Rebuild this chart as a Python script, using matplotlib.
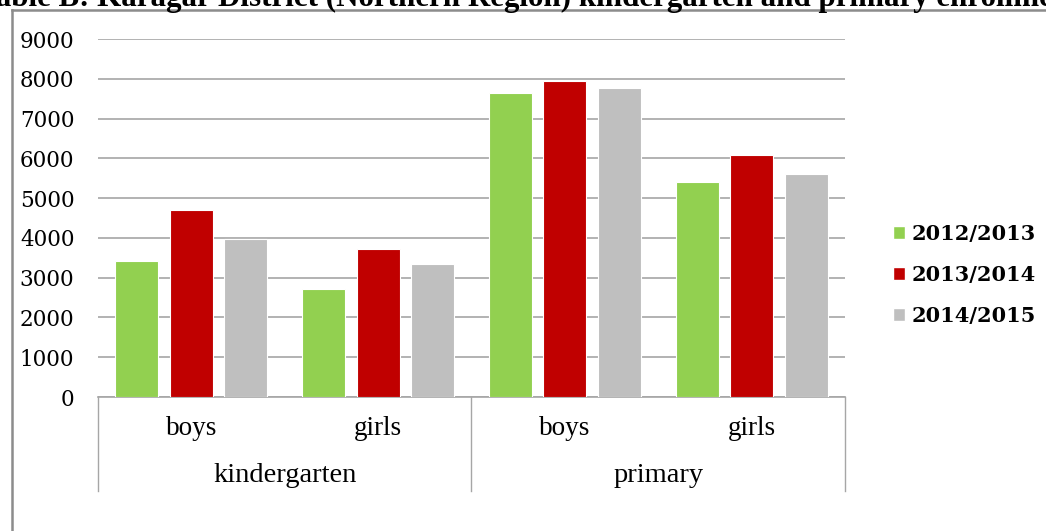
import numpy as np
import matplotlib
matplotlib.use("Agg")
import matplotlib.pyplot as plt
from matplotlib.patches import Patch
from matplotlib.lines import Line2D

# data
levels = ["kindergarten", "primary"]
genders = ["boys", "girls", "boys", "girls"]
years = ["2012/2013", "2013/2014", "2014/2015"]
y2012 = [3420, 2720, 7630, 5400]
y2013 = [4700, 3720, 7940, 6075]
y2014 = [3960, 3340, 7770, 5600]
colors = ["#92D050", "#C00000", "#BFBFBF"]
yticks = [0, 1000, 2000, 3000, 4000, 5000, 6000, 7000, 8000, 9000]

W, H = 1046, 531
fig = plt.figure(figsize=(W / 100, H / 100), dpi=100)

# plot area in pixels: x 98..845, y 39..397
ax = fig.add_axes([98 / W, 1 - 397 / H, (845 - 98) / W, (397 - 39) / H])

x = np.arange(len(genders))
bw = 0.23
off = 0.292
for i, vals in enumerate([y2012, y2013, y2014]):
    ax.bar(x + (i - 1) * off, vals, bw, color=colors[i], edgecolor="white",
           linewidth=0.8, zorder=3, label=years[i])

ax.set_xlim(-0.5, len(genders) - 0.5)
ax.set_ylim(0, 9000)
ax.set_yticks(yticks)
ax.set_yticklabels([str(t) for t in yticks], fontfamily="DejaVu Serif",
                   fontsize=15.5, color="black")
ax.tick_params(axis="y", length=0, pad=17)
ax.tick_params(axis="x", length=0, labelbottom=False)
ax.grid(axis="y", color="#a6a6a6", linewidth=1.2, zorder=0)
for s in ["top", "right", "left"]:
    ax.spines[s].set_visible(False)
ax.spines["bottom"].set_color("#a6a6a6")
ax.spines["bottom"].set_linewidth(1.2)

# category labels (two levels)
tr = ax.get_xaxis_transform()
for xi, g in zip(x, genders):
    ax.text(xi, -0.088, g, transform=tr, ha="center", va="center",
            fontfamily="Liberation Serif", fontsize=19.5)
for k, lv in enumerate(levels):
    ax.text(2 * k + 0.5, -0.22, lv, transform=tr, ha="center", va="center",
            fontfamily="Liberation Serif", fontsize=20.5)
for xs in [-0.5, 1.5, 3.5]:
    ax.plot([xs, xs], [0, -0.262], transform=tr, color="#a6a6a6",
            linewidth=1.0, clip_on=False)

# legend
handles = [Patch(facecolor=c, edgecolor="white") for c in colors]
leg = fig.legend(handles, years, loc="center left",
                 bbox_to_anchor=(874 / W, 1 - 275 / H), frameon=False,
                 prop={"family": "DejaVu Serif", "weight": "bold", "size": 15},
                 handlelength=0.6, handleheight=0.6, handletextpad=0.3,
                 labelspacing=1.0)

# outer chart frame (only top and left edges visible)
fig.add_artist(Line2D([12 / W, 12 / W], [0, 1 - 10 / H], color="#8c8c8c",
                      linewidth=1.8))
fig.add_artist(Line2D([12 / W, 1], [1 - 10 / H, 1 - 10 / H], color="#8c8c8c",
                      linewidth=1.8))

# title, cut off by the top edge as in the reference
fig.text(-0.021, 1 - 6 / H,
         "Table B: Karagar District (Northern Region) kindergarten and primary enrollment",
         fontfamily="Liberation Serif", fontweight="bold", fontsize=22.3,
         ha="left", va="baseline")

fig.savefig("out.png", dpi=100)
